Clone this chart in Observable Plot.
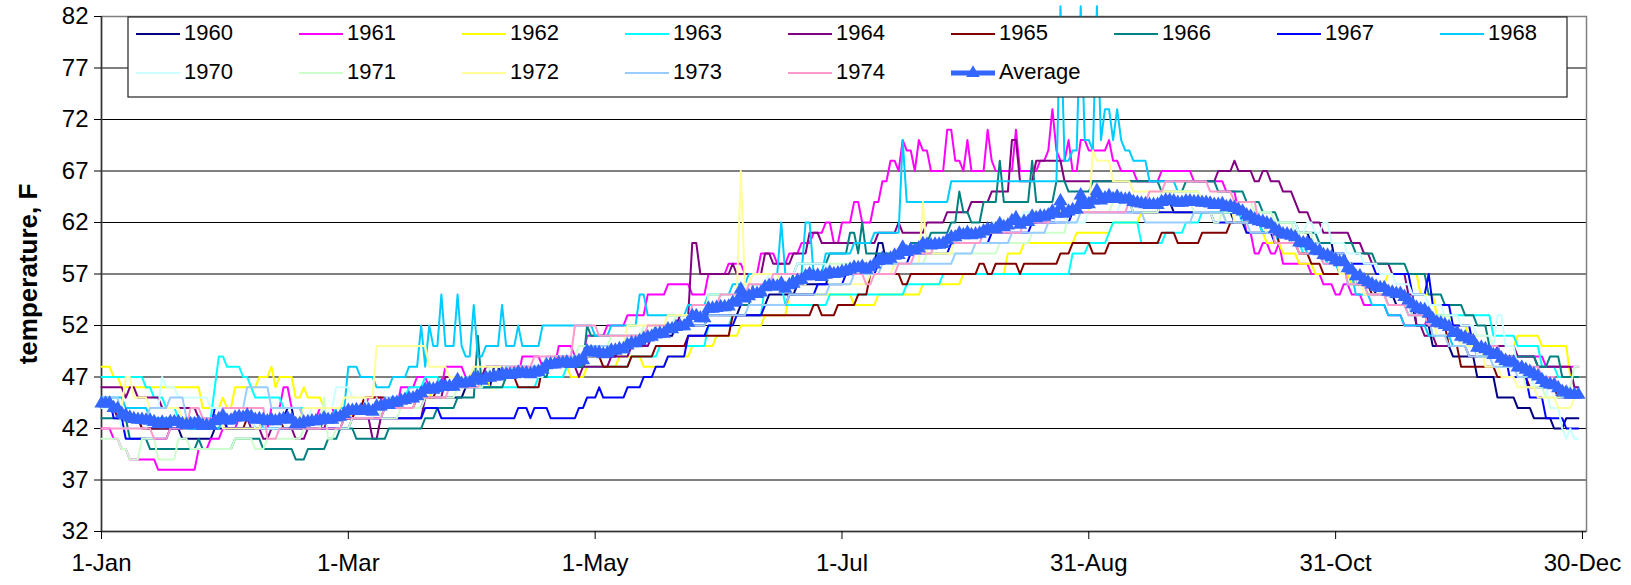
<!DOCTYPE html>
<html><head><meta charset="utf-8">
<script src="https://cdn.jsdelivr.net/npm/d3@7"></script>
<script src="https://cdn.jsdelivr.net/npm/@observablehq/plot@0.6"></script>
<style>
html,body{margin:0;padding:0;background:#fff;}
#chart{width:1631px;height:585px;overflow:hidden;}
</style></head><body><div id="chart"></div>
<script>
// ---- categories / labels ----
const years  = ["1960","1961","1962","1963","1964","1965","1966","1967","1968","1970","1971","1972","1973","1974"];
const colors = ["#000080","#FF00FF","#FFFF00","#00FFFF","#800080","#800000","#008080","#0000FF","#00CCFF","#CCFFFF","#CCFFCC","#FFFF99","#99CCFF","#FF99CC"];
const avgLabel = "Average";
const avgColor = "#3366FF";
const xTickDays   = [0, 61, 122, 183, 244, 305, 366];
const xTickLabels = ["1-Jan","1-Mar","1-May","1-Jul","31-Aug","31-Oct","30-Dec"];
const yTicks  = [32,37,42,47,52,57,62,67,72,77,82];
const xDomain = [0, 367];
const yDomain = [32, 82];
const nDays = 366;
const yTitle = "temperature, F";

// ---- series values: [day index from 1-Jan, temperature held from that day on] ----
const s1960 = [[0,45],[3,44],[6,43],[10,42],[20,41],[28,42],[40,43],[46,44],[48,42],[60,43],[70,44],[80,45],[90,46],[97,48],[99,47],[110,48],[120,49],[128,50],[135,51],[142,52],[150,53],[158,54],[165,55],[172,56],[180,57],[188,58],[192,60],[194,58],[196,59],[204,60],[212,61],[222,62],[232,63],[242,64],[255,63],[262,64],[265,63],[280,62],[287,61],[299,60],[305,58],[310,56],[315,55],[320,54],[325,52],[329,50],[334,49],[340,47],[345,45],[350,44],[354,43],[359,42],[362,43]];
const s1961 = [[0,42],[3,41],[5,40],[7,39],[14,38],[24,40],[27,41],[30,42],[34,43],[38,42],[42,44],[45,46],[47,44],[50,43],[54,44],[58,43],[63,44],[66,45],[70,44],[74,46],[78,47],[81,46],[85,48],[90,47],[95,48],[101,47],[104,49],[109,48],[113,50],[117,49],[120,51],[125,52],[130,53],[135,55],[140,56],[146,55],[150,57],[155,58],[159,57],[163,59],[167,58],[170,59],[173,60],[176,61],[179,62],[181,60],[183,62],[186,64],[188,62],[191,64],[193,66],[195,68],[197,67],[198,70],[199,69],[201,67],[202,70],[203,69],[205,67],[209,71],[211,68],[213,67],[214,70],[215,67],[219,71],[220,68],[221,67],[226,71],[227,67],[232,68],[234,69],[235,73],[236,69],[237,68],[239,70],[240,67],[242,70],[244,69],[249,70],[250,68],[252,67],[256,66],[262,67],[270,66],[278,65],[281,63],[283,61],[285,59],[287,60],[289,59],[291,60],[292,58],[299,57],[302,56],[305,55],[307,56],[309,55],[312,54],[318,53],[322,52],[328,53],[331,52],[336,51],[340,50],[346,49],[357,48]];
const s1962 = [[0,48],[3,47],[5,46],[25,44],[30,45],[31,44],[33,46],[39,47],[42,48],[43,46],[44,47],[48,45],[50,46],[51,45],[55,44],[62,43],[68,44],[75,45],[82,46],[90,47],[96,46],[100,47],[110,48],[116,47],[120,48],[128,49],[134,48],[140,49],[146,50],[152,51],[158,52],[164,53],[170,55],[186,54],[192,55],[203,56],[213,57],[224,59],[228,60],[241,61],[250,62],[257,63],[278,62],[283,61],[288,60],[292,59],[296,58],[300,57],[309,56],[318,57],[326,55],[330,53],[334,52],[338,51],[344,50],[350,51],[356,50],[363,47]];
const s1963 = [[0,47],[11,46],[13,45],[16,44],[19,43],[28,46],[29,49],[31,48],[35,47],[37,46],[38,45],[45,44],[72,45],[76,46],[80,47],[84,46],[108,47],[115,48],[131,49],[138,50],[150,52],[156,53],[164,56],[169,54],[180,55],[199,56],[208,57],[240,59],[244,60],[249,61],[250,62],[257,60],[263,61],[268,62],[272,63],[282,62],[287,61],[291,60],[297,59],[303,58],[308,56],[313,55],[318,54],[323,53],[344,51],[350,50],[356,48],[360,47]];
const s1964 = [[0,46],[6,45],[7,46],[9,45],[15,44],[24,43],[37,42],[40,41],[42,42],[48,41],[51,42],[56,43],[67,41],[69,43],[80,45],[85,47],[95,48],[118,47],[119,48],[126,49],[131,50],[136,51],[140,52],[143,53],[146,60],[148,57],[156,58],[157,57],[164,59],[166,58],[171,59],[175,61],[178,60],[192,61],[197,62],[198,61],[204,62],[209,63],[215,64],[220,65],[225,70],[227,66],[231,68],[238,66],[276,67],[280,68],[281,67],[285,66],[287,67],[289,66],[292,65],[295,64],[296,63],[299,62],[302,61],[309,60],[312,59],[314,58],[319,57],[323,55],[325,52],[327,51],[330,50],[338,49],[345,50],[350,49],[355,48],[364,46]];
const s1965 = [[0,44],[4,43],[10,42],[21,43],[31,42],[36,43],[45,42],[55,43],[63,44],[65,45],[71,44],[78,45],[83,46],[88,47],[103,46],[109,48],[120,49],[124,48],[131,49],[137,50],[145,51],[156,53],[176,54],[178,53],[182,54],[187,55],[190,57],[198,56],[200,57],[217,58],[219,57],[221,58],[227,57],[228,58],[237,59],[240,60],[245,59],[249,60],[262,61],[266,60],[272,61],[279,62],[291,60],[296,59],[299,58],[302,57],[310,56],[314,55],[322,54],[328,52],[333,50],[336,48],[345,47],[353,46],[360,45]];
const s1966 = [[0,43],[7,41],[12,40],[24,41],[25,40],[33,41],[40,40],[48,39],[51,40],[56,41],[59,42],[63,41],[71,42],[80,43],[83,44],[88,45],[93,51],[94,46],[100,47],[111,49],[116,48],[120,52],[121,51],[137,52],[145,53],[150,54],[161,56],[171,57],[172,58],[180,59],[185,61],[187,59],[188,62],[189,59],[200,60],[205,61],[210,62],[212,65],[213,63],[215,62],[218,64],[222,68],[223,64],[230,68],[231,64],[236,66],[239,65],[245,66],[262,65],[268,66],[276,65],[283,64],[287,63],[291,62],[296,61],[301,60],[310,59],[315,58],[323,57],[328,55],[332,54],[337,53],[340,52],[343,50],[346,49],[355,48],[358,49],[361,47]];
const s1967 = [[0,45],[3,43],[6,41],[17,42],[28,44],[31,42],[62,43],[80,44],[84,43],[103,44],[106,43],[107,44],[111,43],[118,44],[120,45],[123,46],[124,45],[130,46],[134,47],[137,48],[140,49],[145,51],[150,52],[157,53],[164,54],[170,55],[177,56],[184,57],[192,58],[200,59],[210,60],[220,61],[230,62],[240,63],[275,62],[283,61],[290,60],[300,59],[308,58],[315,57],[324,55],[328,57],[329,54],[334,52],[339,50],[343,49],[348,47],[353,45],[357,43],[362,42]];
const s1968 = [[0,45],[6,44],[12,43],[20,42],[30,43],[40,42],[50,43],[58,44],[61,48],[64,47],[68,46],[72,47],[76,48],[79,52],[80,48],[81,52],[82,50],[84,55],[85,50],[88,55],[89,50],[90,49],[92,54],[93,49],[95,50],[99,54],[100,50],[103,52],[104,50],[109,52],[122,51],[126,52],[133,55],[135,53],[145,54],[150,55],[156,56],[160,57],[168,62],[169,57],[174,62],[176,57],[179,59],[186,60],[191,61],[198,70],[199,64],[210,66],[237,83],[238,68],[240,69],[242,83],[243,70],[245,69],[246,83],[247,70],[248,73],[250,70],[251,73],[252,70],[253,69],[255,68],[259,66],[266,65],[272,64],[278,63],[284,62],[290,61],[294,60],[298,59],[302,58],[306,57],[310,55],[314,54],[318,53],[322,52],[328,51],[334,50],[340,49],[346,48],[352,47],[358,46],[362,45]];
const s1970 = [[0,44],[5,42],[12,44],[15,47],[16,46],[19,45],[27,44],[31,43],[38,42],[45,43],[52,44],[58,46],[62,45],[66,44],[72,45],[80,46],[88,47],[96,48],[104,47],[110,48],[118,49],[126,50],[134,52],[142,53],[150,54],[158,56],[165,57],[172,58],[180,57],[188,58],[196,59],[204,60],[212,61],[220,62],[228,63],[236,62],[244,63],[252,64],[262,65],[272,64],[282,63],[290,62],[296,61],[298,62],[300,61],[302,62],[304,60],[308,59],[312,58],[316,57],[320,56],[324,55],[328,54],[332,53],[336,52],[340,51],[344,50],[345,53],[347,50],[350,48],[354,46],[358,44],[361,42],[362,41],[363,42],[364,41]];
const s1971 = [[0,41],[5,40],[7,39],[10,41],[14,39],[19,41],[22,40],[33,41],[38,40],[41,41],[50,42],[55,45],[56,41],[58,42],[62,43],[68,45],[69,43],[74,44],[80,45],[88,46],[95,47],[102,48],[110,49],[118,50],[126,51],[134,52],[142,53],[150,55],[158,56],[172,57],[180,58],[188,57],[196,58],[204,59],[222,60],[230,61],[239,63],[250,64],[255,63],[262,64],[270,63],[275,62],[277,63],[280,64],[285,63],[290,62],[295,61],[300,59],[305,58],[310,56],[316,55],[322,54],[328,53],[334,51],[340,49],[346,48],[352,46],[357,45],[362,46],[364,48]];
const s1972 = [[0,45],[3,44],[6,47],[8,45],[12,44],[20,43],[30,42],[40,43],[50,44],[60,45],[68,50],[81,48],[86,47],[92,48],[110,49],[120,50],[130,52],[140,53],[150,54],[157,55],[158,67],[159,56],[161,57],[168,56],[175,57],[180,56],[190,57],[196,58],[203,64],[204,59],[211,61],[222,62],[230,63],[245,69],[246,68],[250,66],[255,65],[272,64],[280,62],[288,61],[294,60],[300,59],[306,57],[312,55],[318,54],[324,53],[330,51],[336,50],[342,48],[346,47],[350,46],[355,45],[360,44],[364,45]];
const s1973 = [[0,45],[5,43],[12,44],[17,45],[21,43],[30,44],[36,46],[42,44],[50,43],[60,44],[70,45],[80,46],[90,47],[100,48],[110,49],[120,50],[130,51],[140,52],[150,53],[160,54],[170,55],[180,56],[186,57],[193,58],[211,59],[216,60],[225,61],[234,62],[242,63],[258,62],[270,63],[278,62],[284,61],[296,60],[302,59],[308,56],[313,55],[318,54],[324,53],[329,51],[333,50],[338,49],[344,48],[350,47],[356,46],[361,45]];
const s1974 = [[0,42],[13,41],[17,42],[22,44],[25,43],[30,44],[41,41],[44,42],[60,43],[70,44],[78,45],[86,46],[94,47],[101,48],[107,49],[117,52],[123,51],[135,52],[146,54],[153,55],[160,56],[166,57],[189,56],[191,57],[197,58],[201,59],[206,60],[218,61],[228,62],[235,63],[254,64],[259,65],[263,66],[274,65],[280,64],[286,62],[290,60],[296,59],[302,58],[308,56],[313,55],[318,54],[323,53],[328,52],[334,51],[340,50],[346,49],[350,48],[356,47],[360,46],[363,45]];

const seriesSteps = [s1960,s1961,s1962,s1963,s1964,s1965,s1966,s1967,s1968,s1970,s1971,s1972,s1973,s1974];

// expand step lists (value held until next listed day) into daily rows
function expand(steps){
  const out = []; let k = 0;
  for (let d = 0; d < nDays; d++){
    while (k + 1 < steps.length && steps[k+1][0] <= d) k++;
    out.push(steps[k][1]);
  }
  return out;
}
const daily = seriesSteps.map(expand);
const rows = [];
years.forEach((yr, i) => daily[i].forEach((t, d) => rows.push({year: yr, day: d, temp: t})));
// Average = mean of the years for each day
const avgRows = d3.range(nDays).map(d => ({day: d, temp: d3.mean(daily, s => s[d])}));

const font = "'Liberation Sans', Arial, sans-serif";

const chart = Plot.plot({
  width: 1631, height: 585,
  marginLeft: 101, marginRight: 45, marginTop: 16, marginBottom: 54,
  x: {domain: xDomain, axis: null},
  y: {domain: yDomain, axis: null},
  color: {domain: years, range: colors},
  style: {fontFamily: font, fontSize: "22px", background: "#fff", color: "#000", overflow: "visible"},
  marks: [
    Plot.gridY(yTicks.filter(t => t > yDomain[0] && t < yDomain[1]), {stroke: "#000", strokeOpacity: 1, strokeWidth: 1}),
    Plot.frame({stroke: "#808080", strokeWidth: 1.5}),
    Plot.ruleX([xDomain[0]], {stroke: "#333", strokeWidth: 1.5}),
    Plot.ruleY([yDomain[0]], {stroke: "#333", strokeWidth: 1.5}),
    Plot.axisY(yTicks, {tickSize: 7, tickPadding: 6, tickFormat: d => String(d), label: null, fontSize: 24}),
    Plot.axisX(xTickDays, {tickSize: 8, tickPadding: 14, tickFormat: d => xTickLabels[xTickDays.indexOf(d)], label: null, fontSize: 24}),
    Plot.line(rows, {x: "day", y: "temp", z: "year", stroke: "year", strokeWidth: 2}),
    Plot.line(avgRows, {x: "day", y: "temp", stroke: avgColor, strokeWidth: 5}),
    Plot.dot(avgRows, {x: "day", y: "temp", symbol: "triangle", r: 5.3, fill: avgColor, stroke: "none"})
  ]
});
document.getElementById("chart").appendChild(chart);

const svg = d3.select(chart);
// y-axis title
svg.append("text")
  .attr("transform", "translate(30,274) rotate(-90)")
  .attr("text-anchor", "middle").attr("dominant-baseline", "middle")
  .style("font-family", font).style("font-weight", "bold").style("font-size", "26px")
  .text(yTitle);

// legend box inside plot
const lg = svg.append("g");
lg.append("rect").attr("x", 128).attr("y", 17).attr("width", 1439).attr("height", 80)
  .attr("fill", "#fff").attr("stroke", "#222").attr("stroke-width", 1.2);
const legendItems = years.map((y, i) => ({label: y, color: colors[i]})).concat([{label: avgLabel, color: avgColor, avg: true}]);
legendItems.forEach((it, i) => {
  const row = i < 9 ? 0 : 1;
  const col = i < 9 ? i : i - 9;
  const x0 = 136 + 163 * col, cy = row === 0 ? 34 : 73;
  lg.append("line").attr("x1", x0).attr("x2", x0 + 44).attr("y1", cy).attr("y2", cy)
    .attr("stroke", it.color).attr("stroke-width", it.avg ? 5 : 2);
  if (it.avg) {
    lg.append("path").attr("d", d3.symbol(d3.symbolTriangle, 80)()).attr("transform", `translate(${x0 + 22},${cy})`).attr("fill", it.color);
  }
  lg.append("text").attr("x", x0 + 48).attr("y", cy).attr("text-anchor", "start").attr("dominant-baseline", "middle")
    .style("font-family", font).style("font-size", "22px").text(it.label);
});
</script></body></html>
